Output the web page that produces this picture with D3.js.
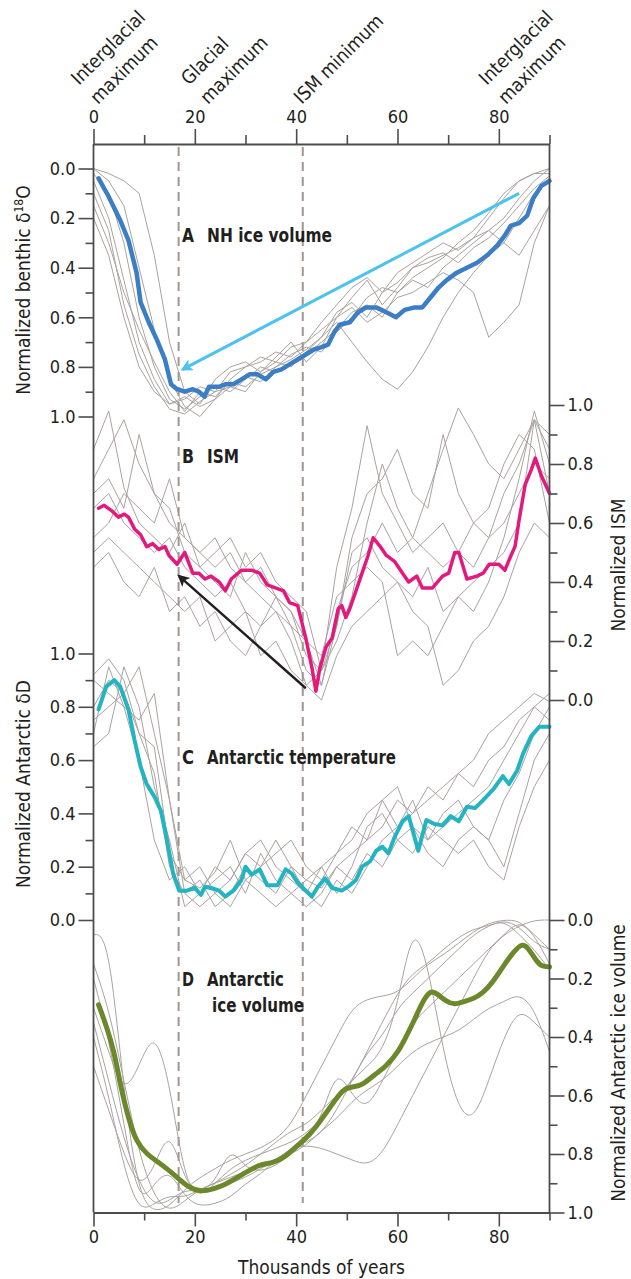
<!DOCTYPE html>
<html>
<head>
<meta charset="utf-8">
<script src="https://cdn.jsdelivr.net/npm/d3@7"></script>
<style>
  body { margin: 0; background: #fff; }
  svg text { font-family: "Liberation Sans Narrow", "DejaVu Sans Condensed", "Open Sans", sans-serif; fill: #231f20; }
</style>
</head>
<body>
<svg id="chart" width="631" height="1279"></svg>
<script>
// ---- data (thousands of years, normalized values) ----
const grayKyr = [0,3,6,9,12,15,18,21,24,27,30,33,36,39,42,45,48,51,54,57,60,63,66,69,72,75,78,81,84,87,90];

// A: NH ice volume (benthic d18O)
const nhIce = [[1,0.04],[2.9,0.11],[5.3,0.21],[6.9,0.29],[8.5,0.42],[9.3,0.54],[10.9,0.62],[12.5,0.69],[14.1,0.77],[15.3,0.87],[16.5,0.89],[18,0.9],[19.6,0.89],[20.8,0.9],[21.9,0.92],[22.8,0.88],[24.8,0.88],[26,0.87],[27.6,0.87],[29.2,0.85],[30.8,0.83],[32.4,0.83],[34,0.85],[35.5,0.82],[37.1,0.81],[38.7,0.79],[40.3,0.77],[41.9,0.75],[43.5,0.73],[45,0.72],[46.3,0.71],[47.5,0.66],[48.6,0.63],[50.6,0.62],[52.2,0.58],[53.8,0.56],[55.8,0.56],[57.8,0.58],[59.7,0.6],[61.4,0.57],[63.4,0.56],[64.9,0.56],[66.5,0.52],[68.1,0.48],[69.7,0.45],[71.7,0.42],[73.7,0.4],[75.7,0.38],[77.7,0.35],[79.7,0.31],[81.2,0.27],[82.4,0.23],[84,0.22],[85.6,0.19],[86.8,0.12],[88.4,0.07],[90,0.05]];
const nhGray = [
  [0.02,0.1,0.3,0.6,0.8,0.93,0.97,0.92,0.88,0.9,0.85,0.8,0.82,0.78,0.75,0.7,0.65,0.58,0.55,0.6,0.5,0.45,0.48,0.4,0.35,0.3,0.25,0.2,0.12,0.05,0.0],
  [0.0,0.02,0.05,0.1,0.35,0.7,0.9,0.95,0.85,0.8,0.78,0.82,0.76,0.7,0.78,0.72,0.6,0.52,0.45,0.55,0.48,0.4,0.38,0.35,0.32,0.28,0.2,0.12,0.05,0.02,0.0],
  [0.15,0.3,0.5,0.65,0.78,0.9,0.98,0.9,0.92,0.86,0.88,0.83,0.8,0.77,0.73,0.68,0.62,0.7,0.78,0.85,0.89,0.82,0.72,0.6,0.5,0.42,0.35,0.3,0.2,0.1,0.05],
  [0.05,0.2,0.45,0.7,0.85,0.95,0.93,0.88,0.9,0.82,0.8,0.76,0.78,0.72,0.7,0.65,0.6,0.56,0.62,0.58,0.52,0.5,0.46,0.42,0.45,0.5,0.68,0.62,0.55,0.3,0.15],
  [0.1,0.25,0.55,0.75,0.88,0.97,0.99,0.94,0.9,0.88,0.84,0.86,0.8,0.75,0.72,0.74,0.66,0.6,0.52,0.48,0.5,0.44,0.4,0.36,0.3,0.25,0.18,0.1,0.05,0.02,0.02],
  [0.2,0.35,0.6,0.8,0.9,0.95,0.92,0.96,0.93,0.85,0.8,0.78,0.74,0.76,0.7,0.62,0.55,0.48,0.44,0.5,0.42,0.38,0.34,0.3,0.33,0.28,0.25,0.3,0.35,0.25,0.15],
  [0.0,0.05,0.15,0.4,0.65,0.85,0.96,1.0,0.93,0.88,0.9,0.82,0.78,0.8,0.74,0.68,0.58,0.54,0.6,0.5,0.46,0.4,0.36,0.34,0.38,0.32,0.28,0.22,0.15,0.08,0.03]
];
const nhArrow = [[84,0.1],[17.6,0.81]];

// B: ISM
const ism = [[1,0.65],[2.1,0.66],[3.7,0.64],[4.9,0.62],[6.1,0.63],[6.9,0.62],[8.1,0.58],[9.3,0.56],[10.5,0.52],[11.7,0.53],[12.9,0.51],[14.1,0.52],[14.9,0.49],[16.5,0.46],[18,0.5],[19.6,0.43],[20.8,0.43],[22,0.41],[23.2,0.42],[24.8,0.4],[26,0.37],[27.2,0.41],[29.2,0.44],[31.2,0.44],[32.8,0.43],[34.3,0.39],[35.9,0.38],[37.5,0.37],[38.7,0.33],[40.3,0.32],[41.9,0.21],[43.1,0.11],[43.9,0.03],[44.7,0.11],[45.9,0.18],[47.1,0.21],[48.3,0.31],[49,0.32],[49.8,0.28],[50.6,0.31],[51.8,0.37],[53,0.43],[54.2,0.49],[55.2,0.55],[56.6,0.52],[57.8,0.49],[59.4,0.47],[61,0.43],[62.2,0.4],[63.8,0.42],[64.9,0.38],[66.9,0.38],[68.9,0.42],[70.1,0.43],[71.3,0.5],[72.1,0.5],[73.7,0.41],[75.7,0.42],[76.9,0.43],[78.1,0.46],[80,0.46],[81.2,0.44],[82.4,0.49],[83.2,0.52],[84,0.61],[85.2,0.73],[86.4,0.78],[87.2,0.82],[88.4,0.76],[90,0.7]];
const ismGray = [
  [0.75,0.85,0.95,0.8,0.7,0.6,0.55,0.5,0.45,0.5,0.4,0.35,0.3,0.25,0.2,0.05,0.3,0.45,0.5,0.6,0.5,0.55,0.7,0.85,0.99,0.9,0.8,0.75,0.85,0.95,0.9],
  [0.55,0.6,0.7,0.65,0.6,0.75,0.55,0.5,0.55,0.45,0.4,0.45,0.35,0.3,0.15,0.1,0.2,0.35,0.6,0.8,0.65,0.55,0.5,0.45,0.5,0.6,0.55,0.7,0.8,0.95,0.85],
  [0.5,0.55,0.5,0.45,0.4,0.35,0.3,0.35,0.2,0.25,0.3,0.15,0.2,0.1,0.05,0.0,0.15,0.25,0.3,0.35,0.4,0.3,0.25,0.05,0.1,0.2,0.25,0.35,0.5,0.6,0.55],
  [0.7,0.75,0.65,0.9,0.7,0.65,0.5,0.45,0.4,0.35,0.5,0.4,0.35,0.25,0.1,0.05,0.25,0.5,0.55,0.45,0.4,0.35,0.45,0.3,0.35,0.4,0.45,0.5,0.6,0.95,0.7],
  [0.45,0.5,0.4,0.35,0.45,0.3,0.35,0.25,0.3,0.2,0.15,0.25,0.3,0.2,0.05,0.1,0.45,0.65,0.93,0.7,0.6,0.5,0.55,0.6,0.5,0.45,0.55,0.6,0.7,0.8,0.75],
  [0.65,0.7,0.6,0.55,0.5,0.55,0.45,0.4,0.35,0.4,0.3,0.25,0.35,0.3,0.2,0.15,0.35,0.4,0.45,0.4,0.15,0.2,0.15,0.25,0.35,0.3,0.4,0.55,0.75,0.98,0.8],
  [0.85,0.98,0.72,0.6,0.55,0.5,0.6,0.45,0.5,0.55,0.45,0.5,0.4,0.35,0.3,0.1,0.25,0.55,0.7,0.75,0.85,0.7,0.65,0.9,0.7,0.6,0.65,0.8,0.9,0.85,0.6]
];
const ismArrow = [[41.9,0.04],[16.9,0.42]];

// C: Antarctic temperature (dD)
const antTemp = [[1,0.79],[2.5,0.875],[4.1,0.9],[5.3,0.875],[6.9,0.79],[8.1,0.675],[9.3,0.575],[10.5,0.51],[12.1,0.46],[13.3,0.41],[14.5,0.3],[15.7,0.175],[16.9,0.11],[18.4,0.11],[20,0.12],[21.2,0.094],[22,0.125],[23.2,0.12],[24.8,0.11],[26,0.088],[27.6,0.11],[29.2,0.15],[30,0.2],[31.2,0.17],[32.8,0.19],[34.3,0.13],[36.3,0.13],[37.9,0.19],[39.1,0.175],[40.3,0.14],[41.9,0.11],[43.1,0.088],[44.3,0.125],[45.7,0.156],[47.1,0.12],[49,0.11],[50.6,0.13],[51.8,0.15],[53,0.2],[54.6,0.22],[55.8,0.26],[57,0.275],[58.2,0.25],[59.4,0.31],[61,0.37],[62.2,0.39],[64.1,0.26],[65.7,0.375],[67.3,0.36],[68.9,0.355],[70.5,0.39],[72.1,0.37],[73.7,0.425],[75.3,0.42],[76.9,0.45],[78.9,0.49],[80.8,0.54],[82,0.51],[83.6,0.56],[84.8,0.625],[86.4,0.69],[88,0.725],[90,0.725]];
const antTempGray = [
  [0.92,0.98,0.9,0.7,0.55,0.2,0.1,0.15,0.05,0.1,0.2,0.15,0.1,0.2,0.15,0.12,0.2,0.25,0.3,0.35,0.45,0.4,0.5,0.45,0.55,0.6,0.7,0.75,0.8,0.85,0.82],
  [0.7,0.95,0.8,0.75,0.85,0.45,0.15,0.2,0.1,0.15,0.25,0.2,0.3,0.2,0.1,0.05,0.15,0.1,0.2,0.3,0.35,0.45,0.3,0.35,0.4,0.45,0.5,0.6,0.7,0.8,0.85],
  [0.65,0.7,0.95,0.8,0.5,0.3,0.05,0.1,0.15,0.2,0.1,0.25,0.15,0.1,0.05,0.1,0.2,0.15,0.25,0.2,0.3,0.25,0.35,0.3,0.25,0.3,0.2,0.15,0.35,0.5,0.6],
  [0.9,0.85,0.8,0.6,0.3,0.15,0.2,0.1,0.2,0.15,0.25,0.3,0.2,0.15,0.1,0.2,0.25,0.3,0.4,0.45,0.35,0.4,0.45,0.5,0.55,0.5,0.6,0.65,0.75,0.8,0.75],
  [0.8,0.9,0.85,0.95,0.7,0.45,0.1,0.05,0.1,0.05,0.15,0.1,0.05,0.1,0.15,0.2,0.1,0.2,0.35,0.4,0.3,0.35,0.25,0.2,0.3,0.35,0.3,0.45,0.55,0.7,0.8],
  [0.75,0.8,0.85,0.7,0.65,0.25,0.15,0.12,0.18,0.3,0.15,0.2,0.25,0.3,0.2,0.15,0.25,0.35,0.3,0.45,0.5,0.35,0.3,0.4,0.45,0.35,0.3,0.2,0.4,0.6,0.7]
];

// D: Antarctic ice volume
const antIce = [[1,0.29],[2.5,0.36],[4.1,0.45],[5.3,0.565],[6.9,0.68],[8.5,0.76],[10.5,0.8],[12.5,0.825],[14.5,0.85],[16.5,0.88],[18.8,0.915],[21.2,0.93],[23.6,0.92],[26,0.905],[28.4,0.88],[30.8,0.855],[33.1,0.835],[35.5,0.83],[37.9,0.81],[40.3,0.77],[42.7,0.735],[45.1,0.68],[47.5,0.62],[49.4,0.575],[51.4,0.57],[53,0.565],[55.4,0.53],[57.8,0.5],[60.2,0.45],[61.8,0.395],[63.4,0.34],[64.9,0.28],[66.5,0.24],[67.7,0.25],[69.7,0.28],[71.3,0.29],[72.9,0.28],[74.9,0.27],[76.9,0.25],[78.9,0.21],[80.8,0.16],[82.4,0.12],[84.4,0.08],[85.6,0.09],[87.2,0.135],[88.4,0.16],[90,0.16]];
const antIceGray = [
  [0.05,0.05,0.6,0.95,1.0,0.98,0.92,0.88,0.85,0.82,0.8,0.78,0.75,0.7,0.6,0.5,0.4,0.3,0.27,0.26,0.25,0.2,0.15,0.12,0.08,0.04,0.01,0.0,0.0,0.05,0.1],
  [0.3,0.45,0.6,0.5,0.37,0.55,0.9,0.95,0.9,0.85,0.82,0.8,0.78,0.76,0.73,0.68,0.62,0.55,0.45,0.35,0.25,0.18,0.15,0.1,0.06,0.03,0.02,0.0,0.05,0.1,0.17],
  [0.5,0.65,0.8,0.92,0.85,0.7,0.9,0.93,0.92,0.9,0.88,0.85,0.82,0.78,0.77,0.78,0.8,0.82,0.84,0.8,0.7,0.6,0.5,0.4,0.3,0.2,0.1,0.05,0.02,0.0,0.0],
  [0.15,0.3,0.55,0.8,0.95,1.0,0.96,0.92,0.9,0.87,0.84,0.8,0.76,0.72,0.7,0.65,0.6,0.55,0.5,0.45,0.3,0.0,0.15,0.45,0.65,0.69,0.55,0.4,0.3,0.35,0.4],
  [0.35,0.55,0.75,0.9,0.98,0.96,0.92,0.93,0.9,0.77,0.85,0.86,0.84,0.8,0.75,0.68,0.5,0.6,0.65,0.55,0.45,0.35,0.3,0.25,0.2,0.15,0.1,0.05,0.0,0.05,0.15],
  [0.4,0.6,0.85,1.0,0.97,0.94,0.95,0.92,0.9,0.88,0.86,0.84,0.82,0.8,0.77,0.72,0.68,0.62,0.58,0.55,0.5,0.45,0.42,0.4,0.38,0.34,0.3,0.28,0.25,0.3,0.45],
  [0.2,0.4,0.7,0.98,0.9,0.85,0.95,0.98,0.97,0.95,0.9,0.87,0.82,0.78,0.76,0.73,0.65,0.55,0.45,0.4,0.3,0.25,0.2,0.15,0.1,0.05,0.02,0.0,0.02,0.08,0.1]
];

// event markers and axis labels
const eventKyr = [16.8, 41.3];
const eventLabels = [["Interglacial", "maximum"], ["Glacial", "maximum"], ["ISM minimum"], ["Interglacial", "maximum"]];
const eventLabelKyr = [0.9, 22.6, 41.1, 81.4];
const xTicksMajor = [0, 20, 40, 60, 80];
const xTicksMinor = [10, 30, 50, 70, 90];
const yTicksMajor = [0, 0.2, 0.4, 0.6, 0.8, 1.0];
const yTicksMinor = [0.1, 0.3, 0.5, 0.7, 0.9];
const panelLetters = ["A", "B", "C", "D"];
const panelNames = [["NH ice volume"], ["ISM"], ["Antarctic temperature"], ["Antarctic", "ice volume"]];

// ---- scales ----
const svg = d3.select("#chart");
const axisColor = "#4d4d4d";
const topY = 144, bottomY = 1212.5;

const x = d3.scaleLinear().domain([0, 90]).range([93.5, 549.5]);
const yA = d3.scaleLinear().domain([0, 1]).range([168.5, 416.5]);
const yB = d3.scaleLinear().domain([0, 1]).range([700, 405]);
const yC = d3.scaleLinear().domain([0, 1]).range([920, 653.5]);
const yD = d3.scaleLinear().domain([0, 1]).range([920, 1212.5]);

const defs = svg.append("defs");
function arrowMarker(id, color) {
  defs.append("marker")
    .attr("id", id)
    .attr("viewBox", "0 0 10 10")
    .attr("refX", 8).attr("refY", 5)
    .attr("markerUnits", "userSpaceOnUse")
    .attr("markerWidth", 15).attr("markerHeight", 12)
    .attr("orient", "auto")
    .append("path")
    .attr("d", "M0,0 L10,5 L0,10 L2.5,5 Z")
    .attr("fill", color);
}
arrowMarker("headBlue", "#4cc2ef");
arrowMarker("headBlack", "#231f20");

// ---- gray individual records ----
function drawGray(list, y, curve) {
  const line = d3.line().x((d, i) => x(grayKyr[i])).y(d => y(d)).curve(curve);
  svg.append("g").selectAll("path").data(list).enter()
    .append("path")
    .attr("d", line)
    .attr("fill", "none")
    .attr("stroke", "#aaa2a0")
    .attr("stroke-width", 1);
}
drawGray(nhGray, yA, d3.curveLinear);
drawGray(ismGray, yB, d3.curveLinear);
drawGray(antTempGray, yC, d3.curveLinear);
drawGray(antIceGray, yD, d3.curveBasis);

// ---- dashed event lines ----
svg.append("g").selectAll("line").data(eventKyr).enter()
  .append("line")
  .attr("x1", d => x(d)).attr("x2", d => x(d))
  .attr("y1", topY + 3).attr("y2", 1203)
  .attr("stroke", "#a3958f")
  .attr("stroke-width", 2)
  .attr("stroke-dasharray", "9,6");

// ---- panel labels (condensed bold, widths taken from the figure) ----
const panelLabelY = [[241.5], [463], [764], [986, 1012]];
const panelNameWidth = [[125], [32], [189], [77, 92]];
panelLetters.forEach((letter, i) => {
  const g = svg.append("g");
  g.append("text").attr("x", 182).attr("y", panelLabelY[i][0])
    .attr("font-size", 20).attr("font-weight", "bold")
    .attr("textLength", 12).attr("lengthAdjust", "spacingAndGlyphs").text(letter);
  panelNames[i].forEach((name, j) => {
    g.append("text").attr("x", j === 0 ? 207 : 212).attr("y", panelLabelY[i][j])
      .attr("font-size", 20).attr("font-weight", "bold")
      .attr("textLength", panelNameWidth[i][j]).attr("lengthAdjust", "spacingAndGlyphs")
      .text(name);
  });
});

// ---- main series ----
function drawMain(data, y, color, width, curve) {
  svg.append("path")
    .datum(data)
    .attr("d", d3.line().x(d => x(d[0])).y(d => y(d[1])).curve(curve))
    .attr("fill", "none")
    .attr("stroke", color)
    .attr("stroke-width", width)
    .attr("stroke-linejoin", "round")
    .attr("stroke-linecap", "round");
}
drawMain(nhIce, yA, "#3b7ec6", 4.5, d3.curveLinear);
drawMain(ism, yB, "#e3197e", 3.5, d3.curveLinear);
drawMain(antTemp, yC, "#22b4c0", 4, d3.curveLinear);
drawMain(antIce, yD, "#6b882a", 5, d3.curveBasis);

// ---- arrows ----
function drawArrow(pts, y, color, width, marker) {
  svg.append("line")
    .attr("x1", x(pts[0][0])).attr("y1", y(pts[0][1]))
    .attr("x2", x(pts[1][0])).attr("y2", y(pts[1][1]))
    .attr("stroke", color).attr("stroke-width", width)
    .attr("marker-end", `url(#${marker})`);
}
drawArrow(nhArrow, yA, "#4cc2ef", 3, "headBlue");
drawArrow(ismArrow, yB, "#231f20", 2.5, "headBlack");

// ---- frame and axes ----
function styleAxis(g) {
  g.selectAll("line").attr("stroke", axisColor).attr("stroke-width", 1.6);
  g.selectAll("path").attr("stroke", axisColor).attr("stroke-width", 1.8);
  g.selectAll("text").attr("font-size", 18).attr("font-family", null).attr("fill", "#231f20");
}

svg.append("line").attr("x1", x(0)).attr("x2", x(0)).attr("y1", topY).attr("y2", bottomY)
  .attr("stroke", axisColor).attr("stroke-width", 1.8);
svg.append("line").attr("x1", x(90)).attr("x2", x(90)).attr("y1", topY).attr("y2", bottomY)
  .attr("stroke", axisColor).attr("stroke-width", 1.8);

const gTop = svg.append("g").attr("transform", `translate(0,${topY})`)
  .call(d3.axisTop(x).tickValues(xTicksMajor).tickSize(15).tickSizeOuter(0).tickPadding(6));
const gTopMinor = svg.append("g").attr("transform", `translate(0,${topY})`)
  .call(d3.axisTop(x).tickValues(xTicksMinor).tickSize(9).tickSizeOuter(0).tickFormat(""));
gTopMinor.select(".domain").remove();
styleAxis(gTop); styleAxis(gTopMinor);

const gBot = svg.append("g").attr("transform", `translate(0,${bottomY})`)
  .call(d3.axisBottom(x).tickValues(xTicksMajor).tickSize(14).tickSizeOuter(0).tickPadding(4));
const gBotMinor = svg.append("g").attr("transform", `translate(0,${bottomY})`)
  .call(d3.axisBottom(x).tickValues(xTicksMinor).tickSize(8).tickSizeOuter(0).tickFormat(""));
gBotMinor.select(".domain").remove();
styleAxis(gBot); styleAxis(gBotMinor);

function sideAxis(scale, side) {
  const make = side === "left" ? d3.axisLeft : d3.axisRight;
  const tx = side === "left" ? x(0) : x(90);
  const major = svg.append("g").attr("transform", `translate(${tx},0)`)
    .call(make(scale).tickValues(yTicksMajor).tickSize(15).tickPadding(3).tickFormat(d3.format(".1f")));
  const minor = svg.append("g").attr("transform", `translate(${tx},0)`)
    .call(make(scale).tickValues(yTicksMinor).tickSize(8).tickFormat(""));
  major.select(".domain").remove();
  minor.select(".domain").remove();
  styleAxis(major); styleAxis(minor);
}
sideAxis(yA, "left");
sideAxis(yB, "right");
sideAxis(yC, "left");
sideAxis(yD, "right");

// ---- axis titles ----
function vTitle(tx, ty, build) {
  const t = svg.append("text")
    .attr("transform", `translate(${tx},${ty}) rotate(-90)`)
    .attr("text-anchor", "middle")
    .attr("font-size", 19);
  build(t);
}
vTitle(30, 290, t => {
  t.append("tspan").text("Normalized benthic δ");
  t.append("tspan").attr("font-size", 12).attr("dy", -7).text("18");
  t.append("tspan").attr("dy", 7).text("O");
});
vTitle(625, 565, t => t.text("Normalized ISM"));
vTitle(30, 784, t => t.text("Normalized Antarctic δD"));
vTitle(625, 1063, t => t.text("Normalized Antarctic ice volume"));

svg.append("text")
  .attr("x", (x(0) + x(90)) / 2).attr("y", 1274)
  .attr("text-anchor", "middle").attr("font-size", 19)
  .text("Thousands of years");

// ---- event labels on top ----
const labelLine = 27;
eventLabels.forEach((lines, i) => {
  const t = svg.append("text")
    .attr("transform", `translate(${x(eventLabelKyr[i])},105) rotate(-45)`)
    .attr("font-size", 19);
  lines.forEach((ln, j) => {
    t.append("tspan")
      .attr("x", 0)
      .attr("y", (j - (lines.length - 1)) * labelLine)
      .text(ln);
  });
});
</script>
</body>
</html>
